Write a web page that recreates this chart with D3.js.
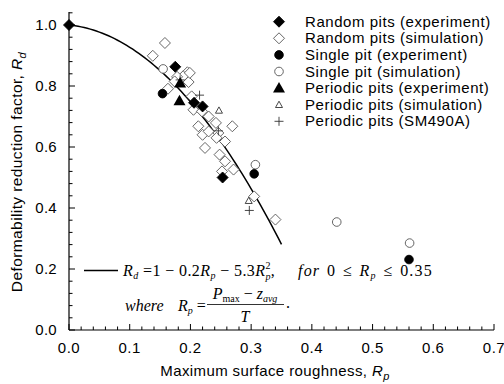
<!DOCTYPE html>
<html>
<head>
<meta charset="utf-8">
<script src="https://cdn.jsdelivr.net/npm/d3@7"></script>
<style>
  body { margin: 0; background: #fff; }
  svg { display: block; }
</style>
</head>
<body>
<svg width="504" height="384"></svg>
<script>
// data: [Rp, Rd]
var randomExp = [[0, 1.0], [0.175, 0.863], [0.206, 0.745], [0.220, 0.733], [0.253, 0.50]];
var randomSim = [
  [0.158, 0.941], [0.138, 0.899], [0.195, 0.845], [0.188, 0.832], [0.178, 0.830],
  [0.197, 0.813], [0.174, 0.815], [0.163, 0.791], [0.199, 0.843], [0.202, 0.766],
  [0.205, 0.722], [0.219, 0.717], [0.213, 0.668], [0.242, 0.679], [0.220, 0.640],
  [0.230, 0.651], [0.246, 0.646], [0.269, 0.668], [0.224, 0.597], [0.248, 0.575],
  [0.257, 0.618], [0.243, 0.630], [0.257, 0.553], [0.271, 0.526], [0.252, 0.520],
  [0.305, 0.438], [0.340, 0.362], [0.230, 0.700]
];
var singleExp = [[0.154, 0.775], [0.305, 0.512], [0.560, 0.231]];
var singleSim = [[0.155, 0.856], [0.307, 0.542], [0.441, 0.354], [0.561, 0.285]];
var periodicExp = [[0.182, 0.752], [0.183, 0.810]];
var periodicSim = [[0.247, 0.720], [0.296, 0.424]];
var periodicSM = [[0.215, 0.770], [0.297, 0.392], [0.246, 0.653], [0.183, 0.820]];

var legendNames = [
  "Random pits (experiment)", "Random pits (simulation)", "Single pit (experiment)",
  "Single pit (simulation)", "Periodic pits (experiment)", "Periodic pits (simulation)",
  "Periodic pits (SM490A)"
];
var xTicks = [0, 0.1, 0.2, 0.3, 0.4, 0.5, 0.6, 0.7];
var yTicks = [0, 0.2, 0.4, 0.6, 0.8, 1.0];

var sans = "'Liberation Sans', Arial, sans-serif";
var svg = d3.select("svg");
var x = d3.scaleLinear().domain([0, 0.7]).range([69, 494]);
var y = d3.scaleLinear().domain([0, 1.0]).range([330, 25]);

// axes
var g = svg.append("g");
g.append("line").attr("x1", x(0)).attr("x2", x(0.7)).attr("y1", y(0)).attr("y2", y(0))
  .attr("stroke", "#000").attr("stroke-width", 1.2);
g.append("line").attr("x1", x(0)).attr("x2", x(0)).attr("y1", y(0)).attr("y2", y(1.043))
  .attr("stroke", "#000").attr("stroke-width", 1.2);

d3.range(0, 0.7001, 0.02).forEach(function(v) {
  var major = Math.abs(v * 10 - Math.round(v * 10)) < 1e-6;
  g.append("line").attr("x1", x(v)).attr("x2", x(v))
    .attr("y1", y(0)).attr("y2", y(0) - (major ? 6 : 3.5))
    .attr("stroke", "#000").attr("stroke-width", 1);
});
d3.range(0, 1.0401, 0.04).forEach(function(v) {
  var major = Math.abs(v * 5 - Math.round(v * 5)) < 1e-6;
  g.append("line").attr("x1", x(0)).attr("x2", x(0) + (major ? 6 : 3.5))
    .attr("y1", y(v)).attr("y2", y(v))
    .attr("stroke", "#000").attr("stroke-width", 1);
});

g.selectAll(".xt").data(xTicks).enter().append("text")
  .attr("x", function(d) { return x(d); }).attr("y", 353)
  .attr("text-anchor", "middle")
  .style("font", "15px " + sans).style("letter-spacing", "0.5px")
  .text(function(d) { return d.toFixed(1); });
g.selectAll(".yt").data(yTicks).enter().append("text")
  .attr("x", 57).attr("y", function(d) { return y(d) + 5; })
  .attr("text-anchor", "end")
  .style("font", "15px " + sans).style("letter-spacing", "0.3px")
  .text(function(d) { return d.toFixed(1); });

// axis titles
var xt = svg.append("text").attr("x", 275).attr("y", 376).attr("text-anchor", "middle")
  .style("font", "15px " + sans).style("letter-spacing", "0.4px");
xt.append("tspan").text("Maximum surface roughness, ");
xt.append("tspan").style("font-style", "italic").text("R");
xt.append("tspan").style("font-style", "italic").style("font-size", "11px").attr("dy", 4).text("p");

var yt = svg.append("text").attr("transform", "translate(22,172) rotate(-90)")
  .attr("text-anchor", "middle")
  .style("font", "15.5px " + sans).style("letter-spacing", "0.4px");
yt.append("tspan").text("Deformability reduction factor, ");
yt.append("tspan").style("font-style", "italic").text("R");
yt.append("tspan").style("font-style", "italic").style("font-size", "11px").attr("dy", 4).text("d");

// fitted curve
var curve = d3.range(0, 0.3501, 0.005).map(function(r) { return [r, 1 - 0.2 * r - 5.3 * r * r]; });
svg.append("path").datum(curve)
  .attr("d", d3.line().x(function(d) { return x(d[0]); }).y(function(d) { return y(d[1]); }))
  .attr("fill", "none").attr("stroke", "#000").attr("stroke-width", 1.5);

// marker drawing
function marker(sel, type) {
  if (type === "dFill" || type === "dOpen") {
    sel.append("path").attr("d", "M0,-5.5L5.5,0L0,5.5L-5.5,0Z")
      .attr("fill", type === "dFill" ? "#000" : "#fff")
      .attr("stroke", type === "dFill" ? "#000" : "#555").attr("stroke-width", 0.9);
  } else if (type === "cFill" || type === "cOpen") {
    sel.append("circle").attr("r", 4.3)
      .attr("fill", type === "cFill" ? "#000" : "#fff")
      .attr("stroke", type === "cFill" ? "#000" : "#555").attr("stroke-width", 0.9);
  } else if (type === "tFill") {
    sel.append("path").attr("d", "M0,-6L6,4.5L-6,4.5Z").attr("fill", "#000");
  } else if (type === "tOpen") {
    sel.append("path").attr("d", "M0,-3.5L3.5,2.8L-3.5,2.8Z")
      .attr("fill", "#fff").attr("stroke", "#333").attr("stroke-width", 0.9);
  } else if (type === "plus") {
    sel.append("path").attr("d", "M-4.5,0H4.5M0,-4.5V4.5")
      .attr("stroke", "#333").attr("stroke-width", 0.9);
  }
}

var series = [
  [randomSim, "dOpen"], [singleSim, "cOpen"], [periodicSim, "tOpen"], [periodicSM, "plus"],
  [randomExp, "dFill"], [singleExp, "cFill"], [periodicExp, "tFill"]
];
series.forEach(function(s) {
  svg.append("g").selectAll("g").data(s[0]).enter().append("g")
    .attr("transform", function(d) { return "translate(" + x(d[0]) + "," + y(d[1]) + ")"; })
    .each(function() { marker(d3.select(this), s[1]); });
});

// legend
var legTypes = ["dFill", "dOpen", "cFill", "cOpen", "tFill", "tOpen", "plus"];
var leg = svg.append("g").selectAll("g").data(legendNames).enter().append("g")
  .attr("transform", function(d, i) { return "translate(279," + (21.7 + i * 16.6) + ")"; });
leg.each(function(d, i) { marker(d3.select(this), legTypes[i]); });
leg.append("text").attr("x", 26).attr("y", 5)
  .style("font", "15px " + sans)
  .style("letter-spacing", "0.55px")
  .text(function(d) { return d; });

// equation box
svg.append("line").attr("x1", 84).attr("x2", 118).attr("y1", 270.5).attr("y2", 270.5)
  .attr("stroke", "#000").attr("stroke-width", 1.5);
var serif = "16px 'Liberation Serif', 'Times New Roman', serif";
var eq = svg.append("text").attr("x", 123).attr("y", 276).style("font", serif)
  .style("letter-spacing", "0.4px");
eq.append("tspan").style("font-style", "italic").text("R");
eq.append("tspan").style("font-style", "italic").style("font-size", "10px").attr("dy", 3).text("d");
eq.append("tspan").attr("dy", -3).text(" =1 \u2212 0.2");
eq.append("tspan").style("font-style", "italic").text("R");
eq.append("tspan").style("font-style", "italic").style("font-size", "10px").attr("dy", 3).text("p");
eq.append("tspan").attr("dy", -3).text(" \u2212 5.3");
eq.append("tspan").style("font-style", "italic").text("R");
eq.append("tspan").style("font-size", "10px").attr("dy", -7.5).text("2");
eq.append("tspan").style("font-style", "italic").style("font-size", "10px").attr("dx", -5.5).attr("dy", 11).text("p");
eq.append("tspan").attr("dy", -3.5).text(",");

var cond = svg.append("text").attr("x", 298).attr("y", 276).style("font", serif)
  .style("letter-spacing", "1.2px").style("word-spacing", "1.5px");
cond.append("tspan").style("font-style", "italic").text("for ");
cond.append("tspan").text("0 \u2264 ");
cond.append("tspan").style("font-style", "italic").text("R");
cond.append("tspan").style("font-style", "italic").style("font-size", "10px").attr("dy", 3).text("p");
cond.append("tspan").attr("dy", -3).text(" \u2264 0.35");

svg.append("text").attr("x", 125).attr("y", 311).style("font", serif)
  .style("font-style", "italic").text("where");
var rp = svg.append("text").attr("x", 178).attr("y", 311).style("font", serif);
rp.append("tspan").style("font-style", "italic").text("R");
rp.append("tspan").style("font-style", "italic").style("font-size", "10px").attr("dy", 3).text("p");
rp.append("tspan").attr("dy", -3).text(" =");
var num = svg.append("text").attr("x", 245).attr("y", 299).attr("text-anchor", "middle").style("font", serif);
num.append("tspan").style("font-style", "italic").text("P");
num.append("tspan").style("font-size", "10px").attr("dy", 3).text("max");
num.append("tspan").attr("dy", -3).text(" \u2212 ");
num.append("tspan").style("font-style", "italic").text("z");
num.append("tspan").style("font-style", "italic").style("font-size", "10px").attr("dy", 3).text("avg");
svg.append("line").attr("x1", 207).attr("x2", 284).attr("y1", 304.5).attr("y2", 304.5)
  .attr("stroke", "#000").attr("stroke-width", 0.8);
svg.append("text").attr("x", 245).attr("y", 322).attr("text-anchor", "middle").style("font", serif)
  .style("font-style", "italic").text("T");
svg.append("text").attr("x", 286).attr("y", 308).style("font", serif).text(".");
</script>
</body>
</html>
